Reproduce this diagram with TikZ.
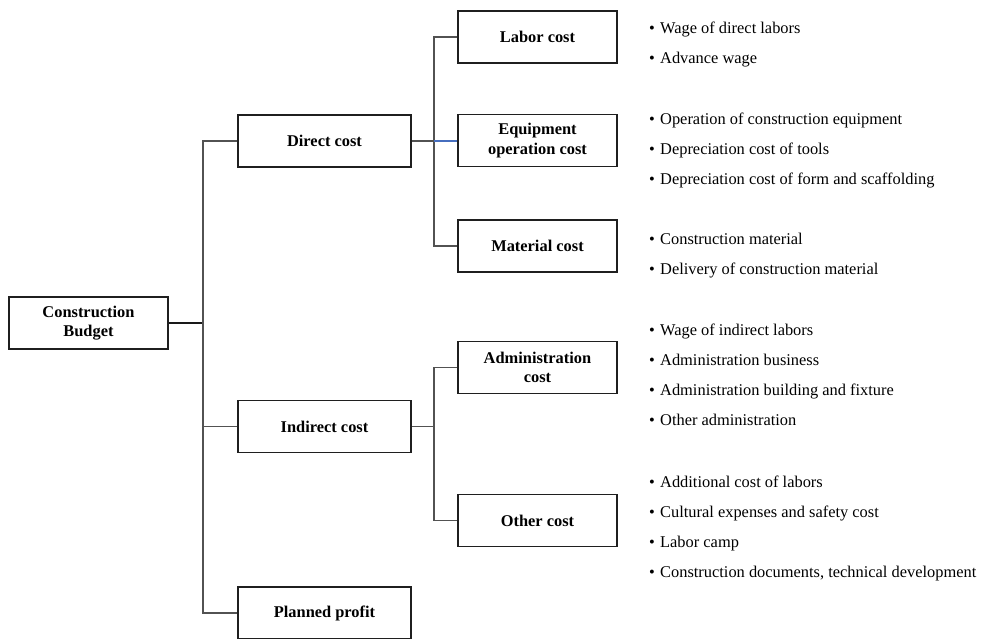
\documentclass[tikz,border=0pt]{standalone}
\usepackage{fontspec}
\setmainfont{Liberation Serif}
\begin{document}
\begin{tikzpicture}[x=1pt,y=-1pt,
 box/.style={draw=black!88, line width=1.5pt, inner sep=0pt, align=center,
   minimum height=52pt, font=\fontsize{16.4}{19.5}\selectfont\bfseries},
 wbox/.style={box, minimum width=173pt},
 nbox/.style={box, minimum width=159pt},
 conn/.style={draw=black!68, line width=1.2pt},
 mainconn/.style={draw=black!90, line width=1.9pt},
 blueconn/.style={draw={rgb,255:red,70;green,110;blue,190}, line width=1.2pt},
 item/.style={anchor=base west, inner sep=0pt, font=\fontsize{16.4}{19.5}\selectfont},
]
\useasboundingbox (0,0) rectangle (985,638);
\clip (0,0) rectangle (985,638);

% level 0
\node[nbox] (cb) at (88.5,323) {Construction\\Budget};
% level 1
\node[wbox] (dc) at (324.5,141) {Direct cost};
\node[wbox] (ic) at (324.5,426.5) {Indirect cost};
\node[wbox] (pp) at (324.5,613) {Planned profit};
% level 2
\node[nbox] (lab) at (537.5,37) {Labor cost};
\node[nbox] (eq)  at (537.5,140.5) {Equipment\\operation cost};
\node[nbox] (mat) at (537.5,246) {Material cost};
\node[nbox] (adm) at (537.5,367.5) {Administration\\cost};
\node[nbox] (oth) at (537.5,520.5) {Other cost};

% trunks
\coordinate (t1) at (203,323);
\coordinate (s1) at (434,0);

\draw[mainconn] (cb.east) -- (t1);
\draw[conn] (dc.west) -- (dc.west -| t1) -- (pp.west -| t1) -- (pp.west);
\draw[conn] (ic.west) -- (ic.west -| t1);

\draw[conn] (lab.west) -- (lab.west -| s1) -- (mat.west -| s1) -- (mat.west);
\draw[conn] (dc.east) -- (dc.east -| s1);
\draw[blueconn] (dc.east -| s1) -- (dc.east -| eq.west);

\draw[conn] (ic.east) -- (ic.east -| s1);
\draw[conn] (adm.west) -- (adm.west -| s1) -- (oth.west -| s1) -- (oth.west);

% bullet lists
\newcommand{\bul}[1]{\makebox[11pt][l]{\textbullet}#1}
\node[item] (l1) at (649,33)  {\bul{Wage of direct labors}};
\node[item] (l2) at (649,63)  {\bul{Advance wage}};
\node[item] (e1) at (649,124) {\bul{Operation of construction equipment}};
\node[item] (e2) at (649,154) {\bul{Depreciation cost of tools}};
\node[item] (e3) at (649,184) {\bul{Depreciation cost of form and scaffolding}};
\node[item] (m1) at (649,244) {\bul{Construction material}};
\node[item] (m2) at (649,274) {\bul{Delivery of construction material}};
\node[item] (a1) at (649,335) {\bul{Wage of indirect labors}};
\node[item] (a2) at (649,365) {\bul{Administration business}};
\node[item] (a3) at (649,395) {\bul{Administration building and fixture}};
\node[item] (a4) at (649,425) {\bul{Other administration}};
\node[item] (o1) at (649,487) {\bul{Additional cost of labors}};
\node[item] (o2) at (649,517) {\bul{Cultural expenses and safety cost}};
\node[item] (o3) at (649,547) {\bul{Labor camp}};
\node[item] (o4) at (649,577) {\bul{Construction documents, technical development}};
\end{tikzpicture}
\end{document}
